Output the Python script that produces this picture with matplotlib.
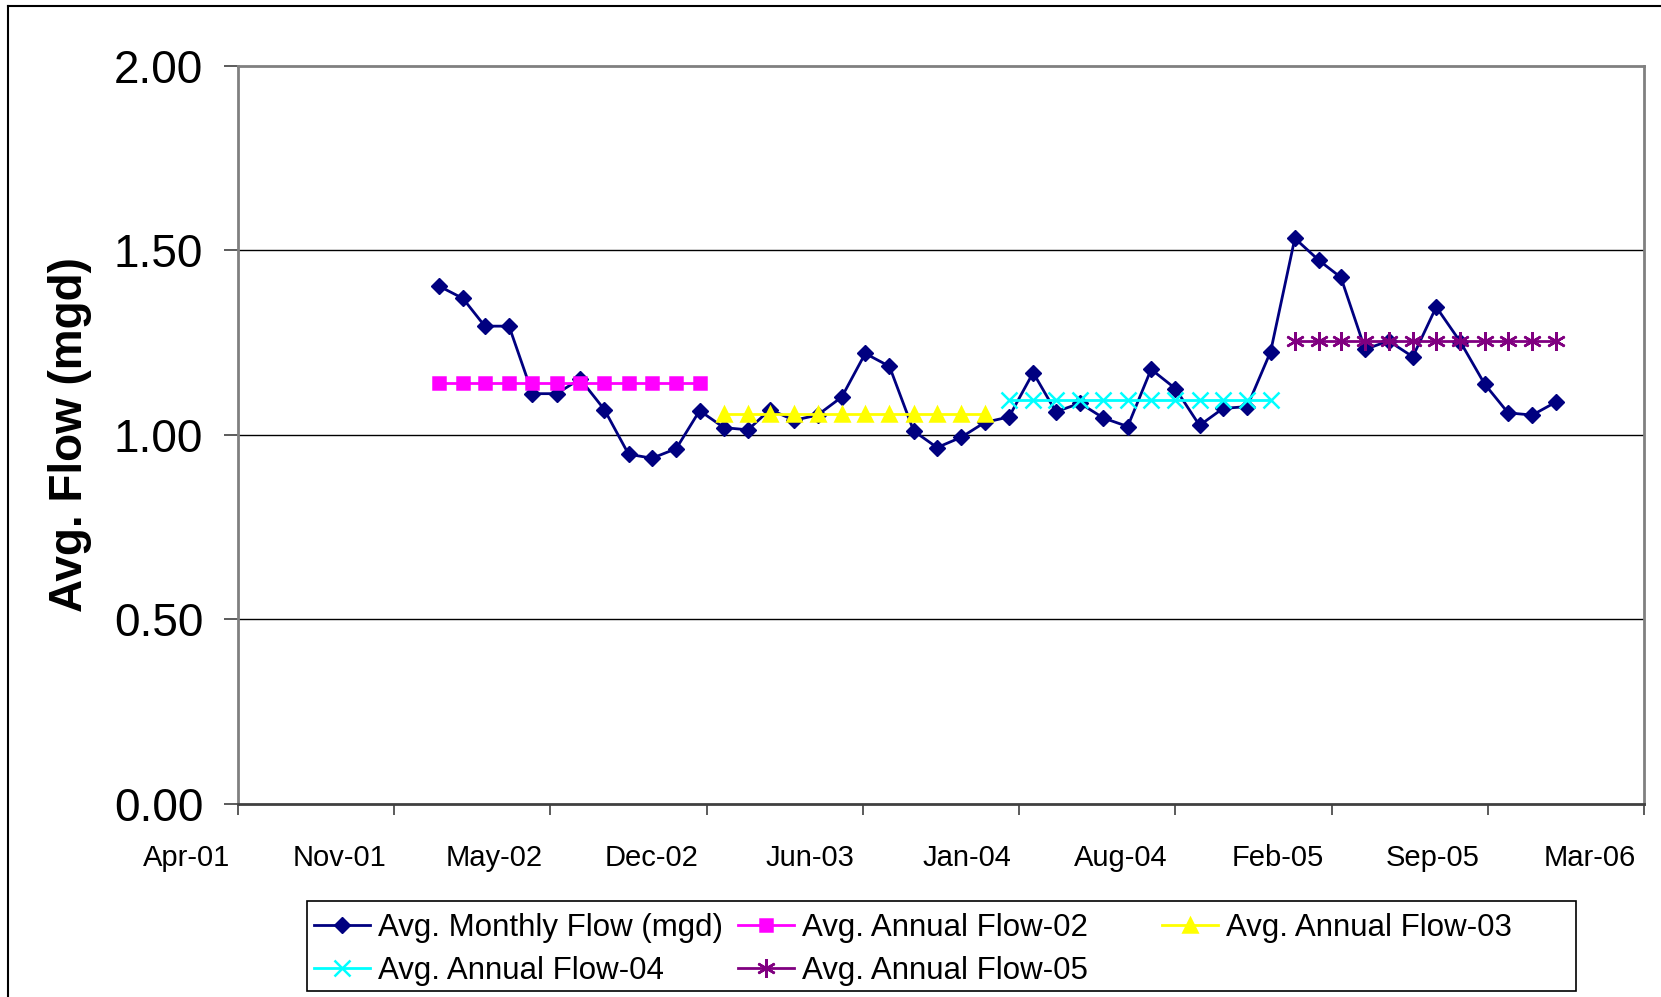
import numpy as np
import pandas as pd
import matplotlib
matplotlib.use('Agg')
import matplotlib.pyplot as plt
import matplotlib.dates as mdates
import matplotlib.transforms as mtransforms
from matplotlib.lines import Line2D
from matplotlib.patches import Rectangle

plt.rcParams['font.family'] = ['Liberation Sans', 'DejaVu Sans']

# monthly flow Jan-02 .. Dec-05 (mgd)
months = pd.date_range('2002-01-01', periods=48, freq='MS')
monthly_flow = [1.404, 1.370, 1.295, 1.295, 1.112, 1.112, 1.152, 1.069, 0.948, 0.937, 0.963, 1.066,
                1.020, 1.014, 1.069, 1.040, 1.054, 1.103, 1.221, 1.186, 1.011, 0.966, 0.994, 1.034,
                1.049, 1.169, 1.063, 1.086, 1.046, 1.023, 1.178, 1.126, 1.026, 1.072, 1.077, 1.226,
                1.533, 1.473, 1.427, 1.232, 1.255, 1.212, 1.347, 1.252, 1.138, 1.060, 1.054, 1.089]

years = ['02', '03', '04', '05']
annual_flow = [1.140, 1.057, 1.095, 1.255]
annual_colors = ['#FF00FF', '#FFFF00', '#00FFFF', '#800080']
annual_markers = ['s', '^', 'x', (6, 2, 0)]
annual_ms = [9, 10, 12, 13.5]

# Excel-style date axis: min 19-Apr-2001, major unit 200 days
x_start = pd.Timestamp('2001-04-19')
tick_dates = [x_start + pd.Timedelta(days=200 * i) for i in range(10)]

W, H = 1661, 997
fig = plt.figure(figsize=(W / 100, H / 100), dpi=100)
ax = fig.add_axes([238 / W, 1 - 804 / H, (1644 - 238) / W, (804 - 66) / H])

ax.plot(months, monthly_flow, color='#000080', lw=2, marker='D', ms=8.5,
        label='Avg. Monthly Flow (mgd)')

annual_lines = []
for i, yr in enumerate(years):
    xs = months[i * 12:(i + 1) * 12]
    l, = ax.plot(xs, np.full(12, annual_flow[i]), color=annual_colors[i], lw=2,
                 marker=annual_markers[i], ms=annual_ms[i], mew=1.8,
                 label='Avg. Annual Flow-' + yr)
    annual_lines.append(l)

ax.set_xlim(tick_dates[0], tick_dates[-1])
ax.set_ylim(0, 2.0)
ax.set_yticks([0, 0.5, 1.0, 1.5, 2.0])
ax.yaxis.set_major_formatter(plt.FormatStrFormatter('%.2f'))
ax.set_xticks(tick_dates)
ax.xaxis.set_major_formatter(mdates.DateFormatter('%b-%y'))

for y in [0.5, 1.0, 1.5]:
    ax.axhline(y, color='black', lw=1, zorder=0.5)

for s in ax.spines.values():
    s.set_color('#808080')
    s.set_linewidth(2)
ax.spines['bottom'].set_color('#404040')

ax.tick_params(axis='y', labelsize=33, length=10, width=1.2, color='#404040', pad=15)
ax.tick_params(axis='x', labelsize=21, length=8, width=1.2, color='#404040', pad=21)

offset = mtransforms.ScaledTranslation(-8 / 100, 0, fig.dpi_scale_trans)
for lab in ax.get_xticklabels():
    lab.set_ha('right')
    lab.set_transform(lab.get_transform() + offset)

ax.set_ylabel('Avg. Flow (mgd)', fontsize=33, fontweight='bold')
ax.yaxis.label.set_va('center')
ax.yaxis.set_label_coords((70 - 238) / (1644 - 238), 0.5)

# legend: three equal-width columns inside one frame
fig.add_artist(Rectangle((307 / W, 1 - 991 / H), (1576 - 307) / W, 90 / H,
                         transform=fig.transFigure, fill=False, ec='black', lw=1.2))
cols = [[ax.lines[0], annual_lines[2]], [annual_lines[0], annual_lines[3]], [annual_lines[1]]]
col_x = [314, 738, 1162]
for hs, cx in zip(cols, col_x):
    leg = fig.legend(handles=hs, labels=[h.get_label() for h in hs], loc='upper left',
                     bbox_to_anchor=(cx / W, 1 - 913 / H), frameon=False, fontsize=22.5,
                     handlelength=1.8, handletextpad=0.25, labelspacing=0.42,
                     borderpad=0, borderaxespad=0)

# outer chart border
fig.add_artist(Line2D([8 / W, 8 / W], [0, 1 - 6 / H], color='black', lw=1.5))
fig.add_artist(Line2D([8 / W, 1], [1 - 6 / H, 1 - 6 / H], color='black', lw=1.5))

fig.savefig('out.png', dpi=100)
